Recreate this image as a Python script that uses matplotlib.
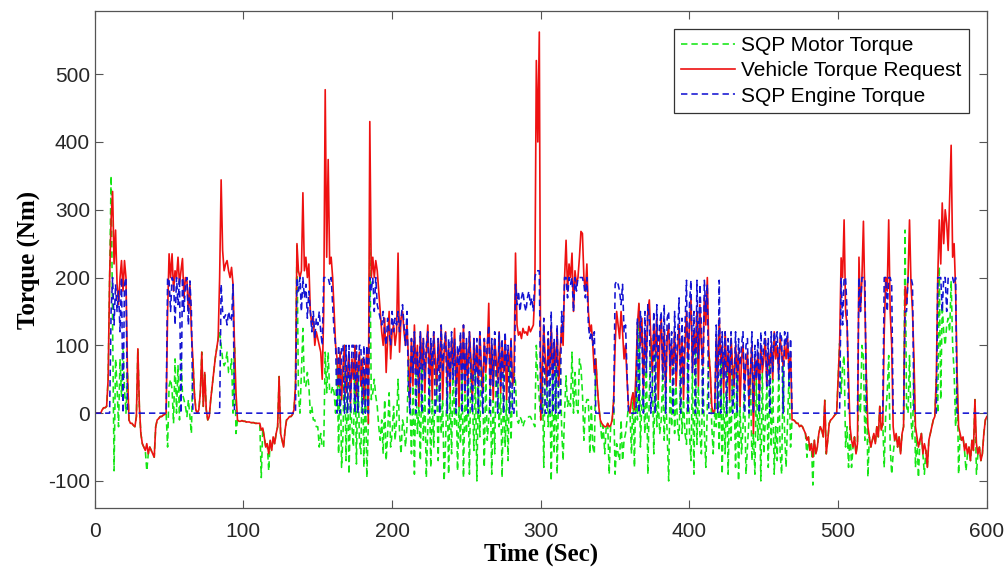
import numpy as np
import matplotlib
matplotlib.use('Agg')
import matplotlib.pyplot as plt

plt.rcParams['axes.unicode_minus'] = False

# sample times, one reading per second
time_sec = np.arange(0, 601)

# Vehicle Torque Request (Nm)
request_torque = [
    0, 0, 0, 0, 0, 5, 8, 8, 10, 50,
    200, 285, 327, 220, 270, 190, 160, 200, 225, 180,
    225, 200, 60, -10, -15, -15, -18, -20, -5, 95,
    10, -30, -45, -50, -55, -45, -60, -50, -55, -60,
    -65, -20, -10, -8, -5, -5, -3, -2, 0, 150,
    235, 200, 235, 180, 210, 200, 230, 190, 210, 228,
    170, 200, 195, 150, 190, 120, 80, 30, 5, 0,
    5, 30, 90, 10, 60, 5, -10, -5, 20, 40,
    60, 80, 95, 110, 200, 344, 240, 210, 220, 225,
    210, 200, 215, 190, 100, 30, -10, -12, -12, -11,
    -12, -12, -13, -13, -13, -14, -14, -14, -15, -15,
    -15, -15, -25, -22, -35, -50, -45, -60, -40, -55,
    -35, -45, -30, -20, 54, -30, -40, -50, -25, -10,
    -8, -5, -5, -2, 5, 40, 250, 210, 200, 210,
    325, 210, 230, 200, 220, 150, 130, 140, 100, 120,
    110, 100, 90, 50, 150, 477, 230, 374, 220, 230,
    200, 150, 100, 80, 40, 90, 20, 70, 100, 30,
    60, 90, 15, 80, 50, 100, 25, 70, 90, 40,
    80, 20, 60, 90, -15, 430, 200, 230, 200, 225,
    210, 180, 150, 120, 100, 140, 60, 110, 150, 80,
    120, 130, 100, 120, 236, 90, 140, 150, 120, 100,
    130, 80, 20, 110, 40, 130, 60, 100, 10, 120,
    70, 110, 30, 90, 130, 50, 100, 20, 120, 80,
    40, 110, 60, 130, 20, 90, 120, 50, 100, 30,
    110, 70, 125, 40, 90, 10, 110, 60, 130, 30,
    100, 50, 120, 80, 20, 110, 60, 100, 40, 120,
    70, 30, 110, 60, 90, 162, 40, 100, 20, 110,
    80, 50, 120, 30, 100, 60, 110, 20, 90, 70,
    110, 40, 60, 236, 130, 115, 120, 110, 125, 118,
    120, 115, 128, 120, 125, 130, 180, 520, 400, 562,
    -10, 60, 130, 80, 40, 110, 60, 130, 50, 100,
    70, 120, 40, 90, 130, 100, 200, 255, 180, 220,
    200, 236, 150, 210, 190, 200, 230, 268, 265, 200,
    180, 220, 150, 120, 130, 100, 60, 80, 40, 10,
    -10, -15, -18, -20, -20, -15, -20, -18, -10, 20,
    100, 150, 130, 110, 150, 120, 80, 100, 50, 10,
    0, 20, 30, 5, 60, 130, 162, 100, 140, 30,
    120, 80, 150, 167, 110, 60, 130, 90, 140, 20,
    100, 140, 60, 120, 30, 110, 130, 50, 100, 70,
    120, 40, 90, 130, 60, 110, 20, 100, 150, 80,
    130, 170, 60, 120, 90, 150, 40, 160, 100, 70,
    170, 130, 200, 90, 60, 10, 0, 5, 110, 50,
    140, 80, 100, 30, 120, 60, 90, 20, 110, 70,
    40, 100, 60, 90, 10, 80, 100, 40, 70, 90,
    20, 60, 100, -30, 80, 50, 90, 30, 100, 60,
    80, 110, 40, 90, 70, 100, 50, 120, 80, 100,
    60, 110, 90, 70, 100, 80, 110, 60, 90, -10,
    -10, -12, -15, -15, -20, -18, -20, -25, -30, -40,
    -35, -55, -45, -65, -40, -60, -50, -30, -20, -25,
    -35, 19, -60, -40, -15, -10, -8, -5, -2, 0,
    50, 103, 229, 200, 285, 150, 130, 50, -20, -40,
    -50, -35, -60, -45, 230, 150, 200, 283, 160, 50,
    -20, -35, -50, -40, -30, -45, -20, -35, 10, -25,
    -15, 120, 200, 180, 285, 150, 100, -20, -40, -30,
    -50, -35, -60, -30, -20, 187, 160, 200, 285, 190,
    150, 80, -20, -35, -50, -40, -30, -60, -45, -55,
    -80, -40, -30, -20, -10, -5, 50, 200, 285, 220,
    310, 250, 300, 280, 240, 320, 395, 230, 250, 180,
    60, -20, -30, -40, -35, -55, -45, -60, -50, -70,
    -40, -55, 20, -45, -60, -50, -70, -60, -30, -10,
    -5,
]

# SQP Engine Torque (Nm)
engine_torque = [
    0, 0, 0, 0, 0, 0, 0, 0, 0, 0,
    0, 150, 200, 130, 190, 150, 180, 120, 200, 0,
    190, 200, 0, 0, 0, 0, 0, 0, 0, 0,
    0, 0, 0, 0, 0, 0, 0, 0, 0, 0,
    0, 0, 0, 0, 0, 0, 0, 0, 0, 200,
    195, 150, 200, 195, 130, 200, 160, 200, 0, 200,
    150, 190, 200, 130, 195, 150, 0, 0, 0, 0,
    0, 0, 0, 0, 0, 0, 0, 0, 0, 0,
    0, 0, 0, 0, 0, 190, 150, 140, 145, 130,
    150, 140, 135, 190, 0, 0, 0, 0, 0, 0,
    0, 0, 0, 0, 0, 0, 0, 0, 0, 0,
    0, 0, 0, 0, 0, 0, 0, 0, 0, 0,
    0, 0, 0, 0, 0, 0, 0, 0, 0, 0,
    0, 0, 0, 0, 0, 0, 200, 180, 200, 150,
    200, 170, 190, 140, 180, 150, 120, 150, 110, 140,
    130, 150, 120, 100, 200, 200, 200, 200, 190, 200,
    160, 120, 100, 0, 100, 0, 100, 100, 0, 100,
    0, 100, 0, 100, 100, 0, 100, 0, 100, 100,
    0, 100, 0, 100, 0, 200, 180, 200, 150, 200,
    160, 150, 140, 130, 150, 120, 100, 140, 120, 100,
    150, 120, 140, 130, 150, 120, 140, 160, 130, 100,
    150, 40, 0, 110, 60, 120, 0, 90, 30, 120,
    0, 110, 50, 100, 120, 0, 110, 70, 120, 0,
    30, 110, 0, 130, 60, 100, 120, 0, 110, 40,
    120, 50, 110, 0, 100, 70, 120, 0, 130, 30,
    110, 0, 120, 60, 0, 110, 40, 110, 0, 120,
    50, 0, 110, 70, 100, 130, 0, 110, 40, 120,
    60, 0, 120, 40, 110, 0, 120, 70, 100, 0,
    110, 0, 0, 190, 160, 180, 150, 170, 180, 160,
    150, 170, 180, 160, 170, 150, 200, 210, 210, 210,
    0, 0, 140, 0, 0, 120, 0, 150, 0, 110,
    0, 130, 0, 0, 150, 120, 200, 200, 170, 200,
    190, 200, 150, 200, 180, 200, 200, 200, 200, 190,
    170, 200, 130, 110, 120, 100, 120, 0, 0, 0,
    0, 0, 0, 0, 0, 0, 0, 0, 0, 0,
    190, 195, 190, 180, 160, 190, 120, 130, 60, 0,
    0, 0, 0, 0, 0, 140, 0, 150, 120, 0,
    150, 60, 160, 140, 0, 40, 150, 0, 160, 80,
    130, 150, 50, 160, 0, 140, 150, 70, 120, 0,
    150, 60, 110, 170, 0, 140, 40, 130, 196, 0,
    160, 196, 60, 150, 0, 196, 80, 190, 130, 0,
    196, 150, 190, 0, 0, 0, 0, 0, 130, 0,
    196, 0, 120, 50, 120, 0, 110, 60, 120, 0,
    40, 120, 0, 110, 70, 100, 120, 0, 100, 110,
    0, 60, 120, 0, 100, 50, 110, 0, 120, 70,
    100, 120, 40, 110, 0, 120, 60, 120, 100, 120,
    50, 120, 110, 0, 120, 100, 120, 40, 110, 0,
    0, 0, 0, 0, 0, 0, 0, 0, 0, 0,
    0, 0, 0, 0, 0, 0, 0, 0, 0, 0,
    0, 0, 0, 0, 0, 0, 0, 0, 0, 0,
    0, 0, 200, 130, 200, 200, 150, 0, 0, 0,
    0, 0, 0, 0, 200, 150, 200, 200, 200, 0,
    0, 0, 0, 0, 0, 0, 0, 0, 0, 0,
    0, 200, 200, 150, 200, 200, 190, 0, 0, 0,
    0, 0, 0, 0, 0, 150, 150, 200, 200, 200,
    190, 0, 0, 0, 0, 0, 0, 0, 0, 0,
    0, 0, 0, 0, 0, 0, 0, 200, 200, 200,
    150, 200, 200, 150, 200, 200, 200, 200, 190, 200,
    0, 0, 0, 0, 0, 0, 0, 0, 0, 0,
    0, 0, 0, 0, 0, 0, 0, 0, 0, 0,
    0,
]

# SQP Motor Torque (Nm)
motor_torque = [
    0, 0, 0, 0, 0, 5, 8, 8, 10, 50,
    200, 350, 127, -85, 80, 40, -20, 80, 25, 100,
    35, 0, 60, -10, -15, -15, -18, -20, -5, 95,
    10, -30, -45, -50, -55, -85, -60, -50, -55, -60,
    -65, -20, -10, -8, -5, -5, -3, -2, 0, -50,
    40, 50, 35, -15, 80, 0, 70, -10, 90, 28,
    20, 10, -5, 20, -5, -30, 80, 30, 5, 0,
    5, 30, 90, 10, 60, 5, -10, -5, 20, 40,
    60, 80, 95, 110, 120, 100, 80, 70, 75, 90,
    60, 60, 80, 0, 100, -30, -10, -12, -12, -11,
    -12, -12, -13, -13, -13, -14, -14, -14, -15, -15,
    -15, -15, -95, -22, -35, -50, -45, -85, -40, -55,
    -35, -45, -30, -20, 54, -30, -40, -50, -25, -10,
    -8, -5, -5, -2, 5, 40, 250, 30, 0, 60,
    125, 40, 40, 60, 40, 0, 10, -10, -10, -20,
    -20, -50, -30, -50, -50, 90, 30, 90, 30, 30,
    40, 30, 0, 80, -60, 90, -80, -30, 100, -70,
    60, -90, 15, -20, -50, 100, -75, 70, -40, -60,
    80, -80, 60, -95, -15, 250, 20, 30, 50, 25,
    10, -20, -40, -10, -60, 20, -70, -30, 30, -50,
    -30, 10, -40, -10, 50, -30, -60, -10, -20, -50,
    -20, 80, 20, -60, 40, -90, 60, -30, 10, -70,
    70, -40, 30, -95, -20, 50, -80, 20, -50, 80,
    40, -70, 60, -30, 20, -100, -40, 50, -90, 30,
    -60, 70, -20, 40, -85, 10, -45, 60, -95, 30,
    -30, 50, -90, 80, 20, -55, 60, -100, 40, -35,
    70, 30, -80, 60, -40, -10, 40, -90, 20, -60,
    80, 50, -20, 30, -95, 60, -50, 20, -70, 70,
    -40, 40, 60, 46, -10, -15, -5, -10, -20, -12,
    -10, -8, -5, -5, -10, -15, -20, 100, 50, 20,
    -10, 60, -80, 80, 40, -20, 60, -100, 50, -60,
    70, -90, 40, 90, -20, -70, 0, 55, 10, 20,
    10, 90, 0, 60, 10, 0, 80, 68, 30, -40,
    10, 20, 20, -60, 10, -50, -60, 80, 40, 10,
    -10, -40, -18, -60, -20, -15, -90, -18, -10, 20,
    -90, -45, -60, -70, -10, -70, -40, -30, -10, 10,
    0, -60, 30, -80, 60, -10, 162, -50, 20, 30,
    -30, 80, -90, 27, 110, 60, -60, 90, -20, 20,
    -30, -10, 60, -40, 30, -30, -100, 50, -20, 70,
    -30, 40, -20, -40, 60, -30, 20, -30, -46, 80,
    -30, -70, 60, -90, 90, -46, 40, -30, -60, 70,
    -26, -80, 10, 90, 60, -20, -60, 5, -20, 50,
    -56, 80, -90, 30, -60, 60, -90, 20, -40, 70,
    40, -80, 60, -100, 10, -60, -20, 40, -90, -50,
    -10, 60, -70, -30, -90, 50, -40, 30, -100, 60,
    -60, -10, 40, -80, 70, -50, 50, -90, -20, -70,
    60, -60, -90, 70, -30, -80, -10, 60, -50, -10,
    -10, -12, -15, -15, -20, -18, -20, -25, -30, -65,
    -35, -55, -45, -106, -40, -60, -50, -30, -20, -25,
    -35, 19, -60, -40, -15, -10, -8, -5, -2, 0,
    50, 103, 29, 70, 85, -50, -20, -80, -20, -80,
    -50, -35, -60, -45, 30, 0, 100, 83, -40, 50,
    -94, -35, -50, -40, -30, -45, -20, -35, 10, -25,
    -15, -80, 0, 30, 85, -50, -90, -60, -40, -30,
    -50, -35, -60, -30, -20, 270, 10, 0, 85, -10,
    -40, 80, -80, -35, -95, -40, -30, -60, -90, -55,
    -80, -40, -30, -20, -10, -5, 50, 0, 216, 20,
    160, 120, 100, 130, 140, 120, 195, 100, 60, -20,
    60, -90, -30, -40, -35, -55, -85, -60, -50, -70,
    -40, -55, 20, -90, -60, -50, -70, -60, -30, -10,
    -5,
]

fig = plt.figure(figsize=(10.08, 5.82), dpi=100)
ax = fig.add_axes([0.094, 0.127, 0.885, 0.854])

dash = (0, (4, 2.5))
ax.plot(time_sec, motor_torque, color='#14e614', linestyle=dash, linewidth=1.15, label='SQP Motor Torque')
ax.plot(time_sec, request_torque, color='#ee1111', linestyle='-', linewidth=1.2, label='Vehicle Torque Request')
ax.plot(time_sec, engine_torque, color='#1414d2', linestyle=dash, linewidth=1.15, label='SQP Engine Torque')

ax.set_xlim(0, 600)
ax.set_ylim(-140, 593)
ax.set_xticks(np.arange(0, 601, 100))
ax.set_yticks(np.arange(-100, 501, 100))

for side in ax.spines.values():
    side.set_color('#555555')
    side.set_linewidth(0.9)
ax.tick_params(direction='in', length=6, width=0.8, top=True, right=True,
               color='#555555', labelcolor='#262626', labelsize=15)
for lab in ax.get_xticklabels() + ax.get_yticklabels():
    lab.set_family('Liberation Sans')
ax.tick_params(axis='x', pad=10)

ax.set_xlabel('Time (Sec)', fontsize=18, fontweight='bold', family='Liberation Serif', labelpad=1)
ax.set_ylabel('Torque (Nm)', fontsize=18, fontweight='bold', family='Liberation Serif', labelpad=5)

leg = ax.legend(loc='upper right', bbox_to_anchor=(0.98, 0.964), borderaxespad=0,
                prop={'family': 'Liberation Sans', 'size': 15}, fancybox=False,
                framealpha=1, edgecolor='#333333', handlelength=2.6,
                handletextpad=0.3, labelspacing=0.3, borderpad=0.35)
leg.get_frame().set_linewidth(0.9)

plt.savefig('out.png', dpi=100)
